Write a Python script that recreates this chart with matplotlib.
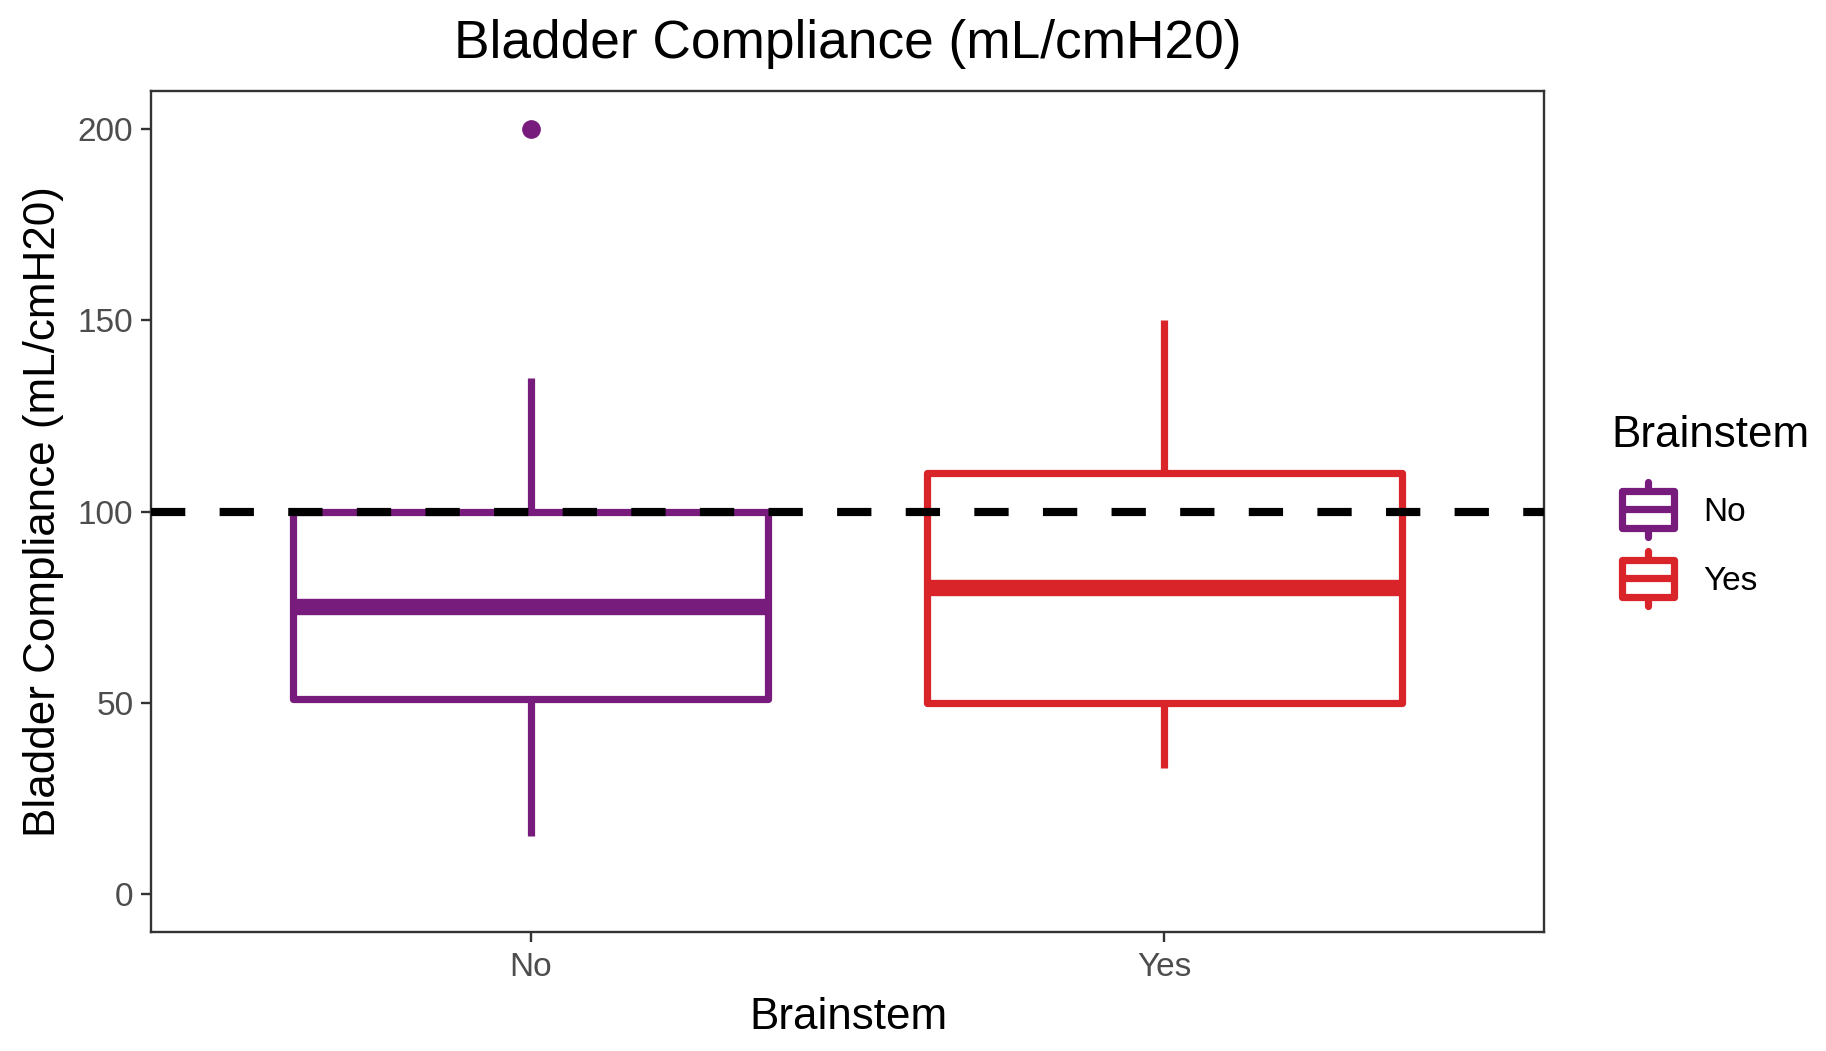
import matplotlib
matplotlib.use("Agg")
import matplotlib.pyplot as plt
from matplotlib.legend_handler import HandlerBase
from matplotlib.patches import Rectangle, Patch
from matplotlib.lines import Line2D

# ---------------- data ----------------
categories = ["No", "Yes"]
whisker_low = [15, 33]
q1 = [51, 50]
median = [75, 80]
q3 = [100, 110]
whisker_high = [135, 150]
outliers = [[200], []]
reference_line = 100
y_ticks = [0, 50, 100, 150, 200]
colors = ["#771C7D", "#D92429"]

plt.rcParams["font.family"] = ["Liberation Sans", "DejaVu Sans"]

W, H = 1826, 1051
fig = plt.figure(figsize=(W / 100, H / 100), dpi=100)
ax = fig.add_axes([151 / W, 1 - 932 / H, (1544 - 151) / W, (932 - 91) / H])

LW = 5.2          # box / whisker line width (pt)
MED_LW = 11.8     # median line width (pt)
positions = list(range(1, len(categories) + 1))

for i, cat in enumerate(categories):
    stats = [dict(label=cat, whislo=whisker_low[i], q1=q1[i], med=median[i],
                  q3=q3[i], whishi=whisker_high[i], fliers=outliers[i])]
    c = colors[i]
    ax.bxp(stats, positions=[positions[i]], widths=0.75, showcaps=False,
           patch_artist=True, manage_ticks=False,
           boxprops=dict(facecolor="white", edgecolor=c, linewidth=LW,
                         joinstyle="round"),
           whiskerprops=dict(color=c, linewidth=LW, solid_capstyle="butt"),
           medianprops=dict(color=c, linewidth=MED_LW, solid_capstyle="butt"),
           flierprops=dict(marker="o", markerfacecolor=c, markeredgewidth=0,
                           markersize=13.5, linestyle="none"))

hl = ax.axhline(reference_line, color="black", linewidth=5.9, zorder=5)
hl.set_dashes((24.7 / 5.9, 24.7 / 5.9))
hl.set_dash_capstyle("butt")

ax.set_xlim(0.4, 2.6)
ax.set_ylim(-10, 210)
ax.set_xticks(positions)
ax.set_xticklabels(categories)
ax.set_yticks(y_ticks)
ax.tick_params(axis="both", colors="#333333", length=7.2, width=1.7,
               labelsize=24, labelcolor="#4D4D4D")
ax.tick_params(axis="x", pad=7)
ax.tick_params(axis="y", pad=5.5)
for s in ax.spines.values():
    s.set_color("#333333")
    s.set_linewidth(1.7)

# titles
fig.text(848 / W, 1 - 58 / H, "Bladder Compliance (mL/cmH20)", fontsize=38.3,
         ha="center", va="baseline")
fig.text(848 / W, 1 - 1029 / H, "Brainstem", fontsize=31.7,
         ha="center", va="baseline")
fig.text(55 / W, 1 - 512 / H, "Bladder Compliance (mL/cmH20)", fontsize=31.7,
         rotation=90, rotation_mode="anchor", ha="center", va="baseline")


# ---------------- legend with boxplot glyphs ----------------
KEY_W = 43.2      # outer key box width (pt)
KEY_H = 32.4      # outer key box height (pt)
KEY_TOT = 44.6    # whisker tip to tip (pt)
KEY_DX = 5.0      # horizontal offset of the key inside its handle area (pt)
KEY_DY = 1.3      # vertical offset to centre on the label (pt)


class BoxKeyHandler(HandlerBase):
    def create_artists(self, legend, orig_handle, xdescent, ydescent,
                       width, height, fontsize, trans):
        c = orig_handle.get_edgecolor()
        x0 = -xdescent + KEY_DX
        yc = -ydescent + height / 2 + KEY_DY
        bw = KEY_W - LW
        bh = KEY_H - LW
        rect = Rectangle((x0 + LW / 2, yc - bh / 2), bw, bh,
                         facecolor="white", edgecolor=c, linewidth=LW,
                         joinstyle="round", transform=trans)
        med = Line2D([x0 + LW / 2, x0 + LW / 2 + bw], [yc, yc],
                     color=c, linewidth=LW, transform=trans,
                     solid_capstyle="butt")
        xc = x0 + KEY_W / 2
        half = KEY_TOT / 2 - LW / 2
        w1 = Line2D([xc, xc], [yc + bh / 2, yc + half], color=c,
                    linewidth=LW, transform=trans, solid_capstyle="round")
        w2 = Line2D([xc, xc], [yc - bh / 2, yc - half], color=c,
                    linewidth=LW, transform=trans, solid_capstyle="round")
        return [w1, w2, rect, med]


handles = [Patch(facecolor="white", edgecolor=c) for c in colors]
leg = fig.legend(handles, categories, title="Brainstem",
                 handler_map={Patch: BoxKeyHandler()},
                 loc="upper left", bbox_to_anchor=(1611 / W, 1 - 415 / H),
                 frameon=False, borderpad=0, borderaxespad=0,
                 fontsize=24, title_fontsize=31.7, alignment="left",
                 handlelength=2.01, handleheight=2.482, labelspacing=0.21,
                 handletextpad=0.746)
leg._legend_box.sep = 17.5

fig.savefig("out.png", dpi=100, facecolor="white")
